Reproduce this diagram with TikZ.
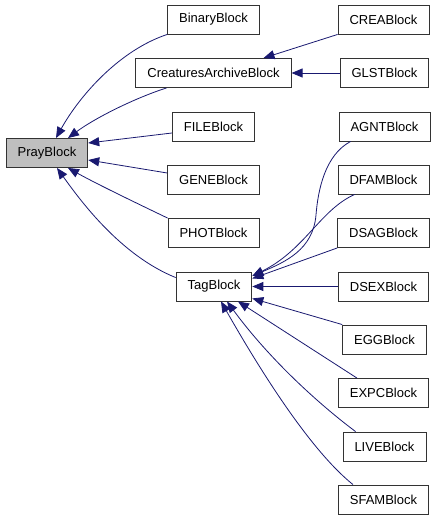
\documentclass[tikz,border=0pt]{standalone}
\usepackage{fontspec}
\setmainfont{Liberation Sans}
\usetikzlibrary{arrows.meta, positioning}
\definecolor{edgeblue}{RGB}{25,25,112}
\definecolor{boxgray}{RGB}{191,191,191}

\begin{document}
\begin{tikzpicture}[
                x=1pt, y=-1pt,
                every node/.style={draw=black!80, line width=0.9pt, rectangle, align=center, minimum height=29pt, inner xsep=11.5pt, font=\fontsize{13}{15}\selectfont},
                arrow/.style={-{Triangle[length=11pt, width=9pt]}, draw=edgeblue, line width=0.8pt}]
            \useasboundingbox (0,0) rectangle (435,520);

            % Classes
            \node[fill=boxgray] (pray) at (47,153) {PrayBlock};
            \node (binary) at (213.5,19.5) {BinaryBlock};
            \node (cab) at (213.5,73) {CreaturesArchiveBlock};
            \node (file) at (213.5,126.5) {FILEBlock};
            \node (gene) at (213.5,179.5) {GENEBlock};
            \node (phot) at (213.5,233) {PHOTBlock};
            \node (tag) at (214,286.5) {TagBlock};

            \node (crea) at (383.5,19.5) {CREABlock};
            \node (glst) at (384.5,73) {GLSTBlock};
            \node (agnt) at (384.5,126.5) {AGNTBlock};
            \node (dfam) at (383.5,179.5) {DFAMBlock};
            \node (dsag) at (383.5,233) {DSAGBlock};
            \node (dsex) at (383.5,286.5) {DSEXBlock};
            \node (egg) at (384.5,339.5) {EGGBlock};
            \node (expc) at (383.5,393) {EXPCBlock};
            \node (live) at (384.5,446.5) {LIVEBlock};
            \node (sfam) at (383.5,499.5) {SFAMBlock};

            % Héritage vers PrayBlock
            \draw[arrow] (binary.south west) .. controls (120,50) and (80,95) .. ([xshift=9pt]pray.north);
            \draw[arrow] ([xshift=-47pt]cab.south) .. controls (135,98) and (95,118) .. ([xshift=21pt]pray.north);
            \draw[arrow] ([yshift=-6.5pt]file.west) -- ([yshift=10pt]pray.east);
            \draw[arrow] ([yshift=6.5pt]gene.west) -- ([yshift=-7pt]pray.east);
            \draw[arrow] (phot.north west) .. controls (130,200) and (95,183) .. ([xshift=21pt]pray.south);
            \draw[arrow] ([yshift=-6pt]tag.north west) .. controls (120,255) and (80,200) .. ([xshift=10pt]pray.south);

            % Héritage vers CreaturesArchiveBlock
            \draw[arrow] (crea.south west) -- ([xshift=50pt]cab.north);
            \draw[arrow] (glst) -- (cab);

            % Héritage vers TagBlock
            \draw[arrow] ([xshift=12pt]agnt.south west) .. controls (325,155) and (318,190) .. (316,215) .. controls (313,250) and (285,262) .. ([yshift=10.5pt]tag.east);
            \draw[arrow] ([xshift=17pt]dfam.south west) .. controls (320,210) and (305,250) .. ([yshift=10.5pt]tag.east);
            \draw[arrow] (dsag.south west) -- ([yshift=8pt]tag.east);
            \draw[arrow] (dsex) -- (tag);
            \draw[arrow] (egg.north west) -- ([yshift=3pt]tag.south east);
            \draw[arrow] ([xshift=19pt]expc.north west) -- ([xshift=24pt]tag.south);
            \draw[arrow] ([xshift=13pt]live.north west) .. controls (320,405) and (270,360) .. ([xshift=13pt]tag.south);
            \draw[arrow] ([xshift=15pt]sfam.north west) .. controls (310,450) and (260,370) .. ([xshift=7pt]tag.south);

        \end{tikzpicture}
\end{document}
